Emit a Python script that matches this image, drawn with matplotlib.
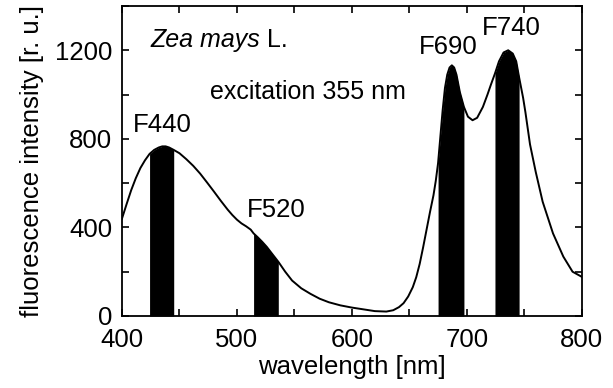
import numpy as np
import matplotlib
matplotlib.use("Agg")
import matplotlib.pyplot as plt
from matplotlib.ticker import MultipleLocator

plt.rcParams['font.family'] = ['Liberation Sans', 'DejaVu Sans']

# spectrum (wavelength nm, intensity r.u.)
wavelength = [400, 404, 408, 412, 416, 420, 424, 428, 432, 435, 438, 441, 445,
              450, 456, 462, 468, 474, 480, 486, 492, 496, 500, 504, 508, 512,
              514.5, 518, 522, 526, 530, 536, 542, 548, 556, 564, 572, 580, 590,
              600, 610, 620, 630, 636, 641, 645, 649, 653, 656, 659, 662, 665,
              668, 671, 673, 675, 677, 679, 681, 683, 685, 687, 689, 691, 694,
              697.5, 701, 705, 709, 714, 718, 721, 724.5, 728, 732, 736, 740, 743,
              745.5, 749, 751, 755, 760, 766, 775, 784, 792, 800]
intensity = [440, 505, 568, 622, 668, 703, 732, 750, 761, 766, 766, 761, 750,
             735, 708, 678, 643, 603, 562, 520, 480, 456, 435, 418, 405, 390,
             373, 356, 335, 312, 285, 245, 200, 160, 125, 100, 78, 62, 48,
             38, 30, 22, 20, 26, 40, 58, 88, 130, 175, 235, 310, 390,
             470, 545, 610, 690, 810, 930, 1030, 1090, 1122, 1132, 1122, 1090, 1010,
             944, 900, 884, 895, 944, 1000, 1045, 1095, 1150, 1190, 1200, 1185, 1150,
             1078, 985, 920, 775, 650, 516, 373, 268, 200, 177]

# filter bands (start, end) and their labels
bands = [(424, 445), (514.5, 536), (675, 697.5), (724.5, 745.5)]
band_names = ['F440', 'F520', 'F690', 'F740']
label_pos = [(409.5, 862), (508.5, 478), (658, 1215), (713.5, 1300)]

wl = np.array(wavelength)
inten = np.array(intensity)

fig = plt.figure(figsize=(6.13, 3.88), dpi=100)
ax = fig.add_axes([0.199, 0.1856, 0.75, 0.799])

for lo, hi in bands:
    mask = (wl >= lo) & (wl <= hi)
    ax.fill_between(wl[mask], 0, inten[mask], color='black', linewidth=0)
ax.plot(wl, inten, color='black', linewidth=1.4)

for name, (x, y) in zip(band_names, label_pos):
    ax.text(x, y, name, fontsize=18.5, va='center', ha='left')

t = ax.text(425, 1248, 'Zea mays', fontsize=18, style='italic', va='center', ha='left')
ax.annotate(' L.', xy=(1, 0.5), xycoords=t, fontsize=18, va='center', ha='left')
ax.text(477, 1012, 'excitation 355 nm', fontsize=18, va='center', ha='left')

ax.set_xlim(400, 800)
ax.set_ylim(0, 1400)
ax.xaxis.set_major_locator(MultipleLocator(100))
ax.xaxis.set_minor_locator(MultipleLocator(50))
ax.yaxis.set_major_locator(MultipleLocator(400))
ax.yaxis.set_minor_locator(MultipleLocator(200))
ax.tick_params(which='both', direction='in', top=True, right=True, width=1.2)
ax.tick_params(which='major', length=5, labelsize=18.5)
ax.tick_params(which='minor', length=5)
ax.tick_params(axis='x', which='major', pad=8.5)
ax.tick_params(axis='y', which='major', pad=7)
for s in ax.spines.values():
    s.set_linewidth(1.3)

ax.set_xlabel('wavelength [nm]', fontsize=18.5, labelpad=2)
ax.set_ylabel('fluorescence intensity [r. u.]', fontsize=18.5, labelpad=8)

fig.savefig('out.png', dpi=100)
